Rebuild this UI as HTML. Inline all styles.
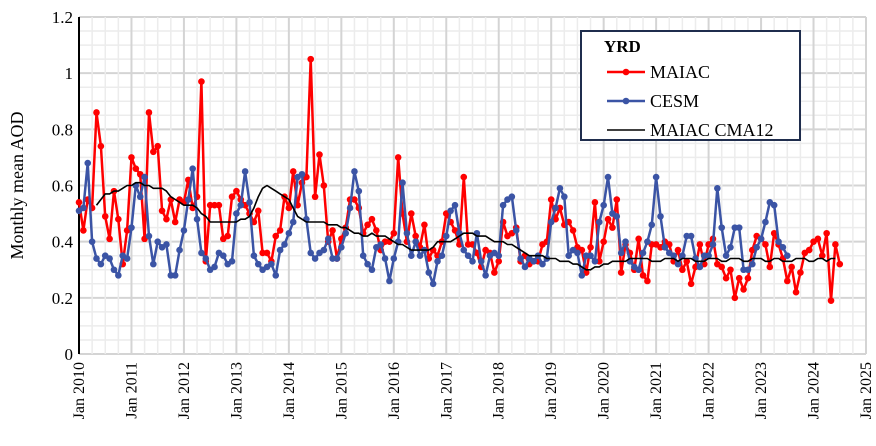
<!DOCTYPE html>
<html><head><meta charset="utf-8"><style>
body{margin:0;background:#fff}
svg{display:block;font-family:"Liberation Serif",serif}
</style></head><body>
<svg id="c" width="876" height="446"></svg>
<script>
const maiac=[0.54,0.44,0.55,0.52,0.86,0.74,0.49,0.41,0.58,0.48,0.32,0.44,
0.70,0.66,0.64,0.41,0.86,0.72,0.74,0.51,0.48,0.55,0.47,0.55,
0.54,0.62,0.52,0.56,0.97,0.33,0.53,0.53,0.53,0.41,0.42,0.56,
0.58,0.55,0.53,0.50,0.47,0.51,0.36,0.36,0.33,0.42,0.44,0.56,
0.52,0.65,0.53,0.61,0.63,1.05,0.56,0.71,0.60,0.40,0.44,0.34,
0.41,0.45,0.55,0.55,0.52,0.43,0.46,0.48,0.44,0.37,0.40,0.40,
0.43,0.70,0.50,0.40,0.50,0.42,0.38,0.46,0.34,0.37,0.35,0.40,
0.50,0.47,0.44,0.39,0.63,0.39,0.39,0.36,0.31,0.37,0.36,0.29,
0.33,0.47,0.42,0.43,0.45,0.33,0.35,0.32,0.33,0.33,0.39,0.40,
0.55,0.48,0.52,0.46,0.47,0.44,0.38,0.37,0.29,0.38,0.54,0.33,
0.40,0.48,0.45,0.55,0.29,0.39,0.36,0.30,0.41,0.28,0.26,0.39,
0.39,0.38,0.40,0.39,0.33,0.37,0.30,0.33,0.25,0.31,0.39,0.32,
0.39,0.41,0.32,0.31,0.27,0.30,0.20,0.27,0.23,0.27,0.37,0.42,
0.41,0.39,0.31,0.43,0.39,0.34,0.26,0.31,0.22,0.29,0.36,0.37,
0.40,0.41,0.35,0.43,0.19,0.39,0.32];
const cesm=[0.51,0.52,0.68,0.40,0.34,0.32,0.35,0.34,0.30,0.28,0.35,0.34,
0.45,0.60,0.56,0.63,0.42,0.32,0.40,0.38,0.39,0.28,0.28,0.37,
0.44,0.55,0.66,0.48,0.36,0.34,0.30,0.31,0.36,0.35,0.32,0.33,
0.50,0.53,0.65,0.54,0.35,0.32,0.30,0.31,0.32,0.28,0.37,0.39,
0.43,0.47,0.63,0.64,0.48,0.36,0.34,0.36,0.37,0.41,0.34,0.34,
0.38,0.43,0.52,0.65,0.58,0.35,0.32,0.30,0.38,0.39,0.34,0.26,
0.34,0.40,0.61,0.43,0.35,0.40,0.35,0.37,0.29,0.25,0.33,0.35,
0.42,0.51,0.53,0.43,0.37,0.35,0.33,0.43,0.33,0.28,0.35,0.36,
0.35,0.53,0.55,0.56,0.44,0.34,0.31,0.34,0.33,0.35,0.32,0.34,
0.47,0.52,0.59,0.56,0.35,0.37,0.36,0.28,0.35,0.35,0.33,0.47,
0.53,0.63,0.50,0.49,0.36,0.40,0.33,0.31,0.30,0.36,0.40,0.46,
0.63,0.49,0.38,0.36,0.35,0.32,0.35,0.42,0.42,0.34,0.31,0.35,
0.35,0.39,0.59,0.45,0.35,0.38,0.45,0.45,0.30,0.30,0.32,0.38,
0.41,0.47,0.54,0.53,0.40,0.38,0.35];
const cmaStart=4;
const cma=[0.53,0.55,0.57,0.57,0.58,0.58,0.59,0.60,0.60,0.61,0.61,0.60,0.60,0.59,0.59,0.59,0.58,0.56,0.55,0.54,0.53,0.53,0.53,0.52,0.50,0.49,0.47,0.47,0.47,0.47,0.47,0.47,0.47,0.48,0.48,0.49,0.52,0.56,0.59,0.60,0.59,0.58,0.57,0.56,0.55,0.52,0.49,0.48,0.47,0.47,0.47,0.47,0.47,0.46,0.46,0.46,0.45,0.45,0.44,0.43,0.43,0.42,0.42,0.43,0.42,0.42,0.42,0.41,0.40,0.39,0.39,0.38,0.37,0.37,0.37,0.37,0.37,0.38,0.40,0.40,0.40,0.40,0.41,0.42,0.43,0.43,0.43,0.42,0.42,0.42,0.41,0.40,0.40,0.40,0.39,0.39,0.38,0.37,0.36,0.35,0.35,0.35,0.35,0.34,0.34,0.34,0.33,0.33,0.33,0.32,0.32,0.31,0.30,0.30,0.31,0.31,0.32,0.32,0.33,0.33,0.33,0.33,0.34,0.34,0.34,0.34,0.34,0.33,0.33,0.33,0.34,0.34,0.34,0.33,0.34,0.34,0.34,0.33,0.33,0.33,0.34,0.34,0.34,0.33,0.33,0.34,0.34,0.34,0.33,0.33,0.34,0.34,0.34,0.33,0.33,0.34,0.34,0.33,0.33,0.33,0.34,0.34,0.34,0.33,0.33,0.34,0.34,0.33,0.34,0.34];
const yearLabels=["Jan 2010","Jan 2011","Jan 2012","Jan 2013","Jan 2014","Jan 2015","Jan 2016","Jan 2017","Jan 2018","Jan 2019","Jan 2020","Jan 2021","Jan 2022","Jan 2023","Jan 2024","Jan 2025"];
const yTicks=[0,0.2,0.4,0.6,0.8,1,1.2];

const L=79,R=866,T=17,B=354;
const x=i=>L+(R-L)*i/180;
const y=v=>B-(B-T)*v/1.2;
const svg=document.getElementById('c');
const NS='http://www.w3.org/2000/svg';
function mk(tag,at,parent){const e=document.createElementNS(NS,tag);for(const k in at)e.setAttribute(k,at[k]);(parent||svg).appendChild(e);return e;}

for(let v=0;v<=1.2001;v+=0.05){const major=Math.abs(v/0.2-Math.round(v/0.2))<1e-6;
const g=mk('line',{x1:L,x2:R,y1:y(v),y2:y(v),stroke:major?'#d4d4d4':'#ececec','stroke-width':major?2:1.5});
}
for(let i=0;i<=180;i+=3){const major=i%12===0;
const g=mk('line',{x1:x(i),x2:x(i),y1:T,y2:B,stroke:major?'#d4d4d4':'#ececec','stroke-width':major?2:1.5});
}
const ax=mk('line',{x1:L,x2:L,y1:T,y2:B,stroke:'#000','stroke-width':2});

yTicks.forEach(v=>{const t=mk('text',{x:73,y:y(v)+6,'text-anchor':'end','font-size':17});t.textContent=String(v);
});
yearLabels.forEach((s,k)=>{const px=x(k*12);const t=mk('text',{transform:`translate(${px+5},${B+8}) rotate(-90)`,'text-anchor':'end','font-size':16});t.textContent=s;
});
const yt=mk('text',{transform:`translate(23,${(T+B)/2}) rotate(-90)`,'text-anchor':'middle','font-size':18});yt.textContent='Monthly mean AOD';


function series(vals,start,color,name,markers,w){
const g=mk('g',{});
const pts=vals.map((v,i)=>x(i+start).toFixed(1)+','+y(v).toFixed(1)).join(' ');
const p=mk('polyline',{points:pts,fill:'none',stroke:color,'stroke-width':w,'stroke-linejoin':'round'},g);

if(markers)vals.forEach((v,i)=>{const c=mk('circle',{cx:x(i+start),cy:y(v),r:3.3,fill:color},g);
});}
series(maiac,0,'#ff0000','maiac',true,2.5);
series(cesm,0,'#3b54a5','cesm',true,2.5);
series(cma,cmaStart,'#000','maiac-cma12',false,1.6);

const lg=mk('g',{});
mk('rect',{x:581,y:31,width:219,height:109,fill:'#fff',stroke:'#1f2d4d','stroke-width':2},lg);
const tt=mk('text',{x:604,y:52,'font-size':17,'font-weight':'bold'},lg);tt.textContent='YRD';

[['MAIAC','#ff0000',true,72],['CESM','#3b54a5',true,101],['MAIAC CMA12','#000',false,130]].forEach(([n,c,m,yy])=>{
const e=mk('g',{},lg);
mk('line',{x1:607,x2:645,y1:yy,y2:yy,stroke:c,'stroke-width':m?2.5:1.6},e);
if(m)mk('circle',{cx:626,cy:yy,r:3.3,fill:c},e);
const t=mk('text',{x:650,y:yy+6,'font-size':18},e);t.textContent=n;});
</script>
</body></html>
